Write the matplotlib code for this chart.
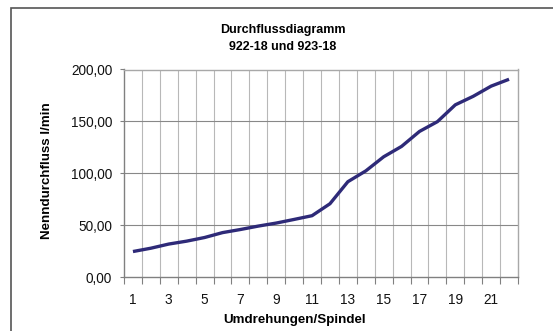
import numpy as np
import matplotlib
matplotlib.use("Agg")
import matplotlib.pyplot as plt
from matplotlib.patches import Rectangle
from matplotlib.ticker import FuncFormatter

plt.rcParams['font.family'] = ['Liberation Sans', 'DejaVu Sans']

# Umdrehungen der Spindel und gemessener Nenndurchfluss
umdrehungen = list(range(1, 23))
durchfluss = [24.8, 28.0, 32.0, 34.8, 38.3, 43.0, 46.0, 49.3, 52.2, 55.7, 59.3,
              70.8, 92.0, 102.4, 116.0, 126.0, 140.4, 149.8, 166.0, 174.2, 184.0, 190.6]
y_ticks = [0, 50, 100, 150, 200]

W, H = 553, 331
fig = plt.figure(figsize=(W / 100, H / 100), dpi=100)

# Rahmen um den Diagrammbereich (läuft rechts und unten aus dem Bild)
fig.patches.append(Rectangle((11 / W, -0.1), 1.2, 1 - 8 / H + 0.1,
                             transform=fig.transFigure, fill=False,
                             edgecolor='#555555', lw=1.2, clip_on=False))

left, right, top, bottom = 124, 518, 69.5, 277.3
ax = fig.add_axes([left / W, 1 - bottom / H, (right - left) / W, (bottom - top) / H])

ax.plot(umdrehungen, durchfluss, color='#2e2a78', lw=2.4, solid_capstyle='butt',
        solid_joinstyle='round', zorder=3)

ax.set_xlim(0.5, len(umdrehungen) + 0.5)
ax.set_ylim(0, 200)

# Gitterlinien zwischen den Kategorien
bounds = np.arange(0.5, len(umdrehungen) + 1, 1.0)
ax.set_xticks(bounds)
ax.set_xticklabels([])
ax.set_xticks(umdrehungen[::2], minor=True)
ax.set_xticklabels([str(u) for u in umdrehungen[::2]], minor=True)
ax.tick_params(axis='x', which='major', length=5, width=0.8, color='#808080',
               direction='out')
ax.tick_params(axis='x', which='minor', length=0, pad=11, labelsize=9.8,
               labelcolor='#111111')
for b in bounds[1:-1]:
    ax.axvline(b, color='#b8b8b8', lw=0.8, zorder=1)

ax.set_yticks(y_ticks)
ax.yaxis.set_major_formatter(FuncFormatter(lambda v, p: f"{v:.2f}".replace('.', ',')))
ax.tick_params(axis='y', length=3, width=0.8, color='#808080', direction='out',
               pad=5.5, labelsize=9.8, labelcolor='#111111')
for v in y_ticks[1:-1]:
    ax.axhline(v, color='#888888', lw=0.8, zorder=1)

for side in ['top', 'right']:
    ax.spines[side].set_color('#a8a8a8')
    ax.spines[side].set_linewidth(1.0)
for side in ['left', 'bottom']:
    ax.spines[side].set_color('#808080')
    ax.spines[side].set_linewidth(1.0)

fig.text(283 / W, 1 - 30 / H, 'Durchflussdiagramm', ha='center', va='center',
         fontsize=9, fontweight='bold')
fig.text(283 / W, 1 - 47 / H, '922-18 und 923-18', ha='center', va='center',
         fontsize=9, fontweight='bold')
fig.text(295 / W, 1 - 320 / H, 'Umdrehungen/Spindel', ha='center', va='center',
         fontsize=9.6, fontweight='bold')
fig.text(47 / W, 1 - 171 / H, 'Nenndurchfluss l/min', ha='center', va='center',
         rotation=90, fontsize=9.6, fontweight='bold')

fig.savefig('out.png', dpi=100)
